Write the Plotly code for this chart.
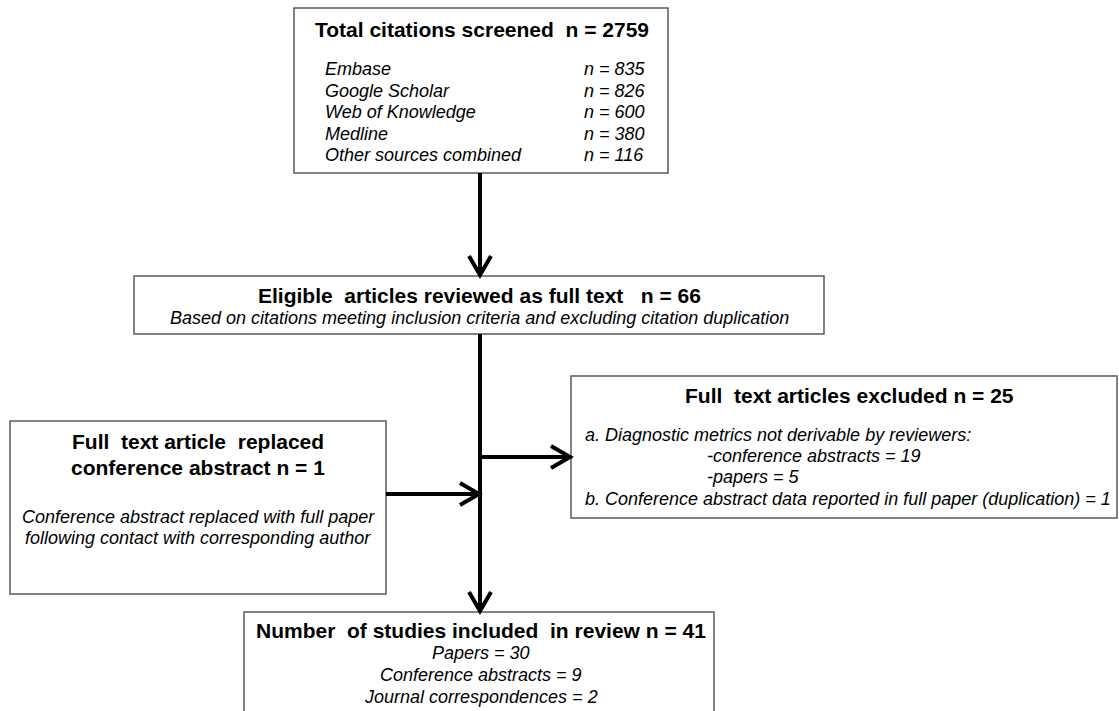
import plotly.graph_objects as go

W, H = 1119, 711

# ---- content (text) ----
screen_title = "Total citations screened&nbsp;&nbsp;n = 2759"
sources = ["Embase", "Google Scholar", "Web of Knowledge", "Medline", "Other sources combined"]
source_counts = [835, 826, 600, 380, 116]

eligible_title = "Eligible&nbsp;&nbsp;articles reviewed as full text&nbsp;&nbsp;&nbsp;n = 66"
eligible_sub = "Based on citations meeting inclusion criteria and excluding citation duplication"

excluded_title = "Full&nbsp;&nbsp;text articles excluded n = 25"
excluded_lines = ["a. Diagnostic metrics not derivable by reviewers:",
                  "-conference abstracts = 19",
                  "-papers = 5",
                  "b. Conference abstract data reported in full paper (duplication) = 1"]

replaced_title = ["Full&nbsp;&nbsp;text article&nbsp;&nbsp;replaced", "conference abstract n = 1"]
replaced_lines = ["Conference abstract replaced with full paper",
                  "following contact with corresponding author"]

included_title = "Number&nbsp;&nbsp;of studies included&nbsp;&nbsp;in review n = 41"
included_labels = ["Papers", "Conference abstracts", "Journal correspondences"]
included_counts = [30, 9, 2]

# ---- layout geometry (pixels) ----
boxes = {
    "screen":   (294, 8, 668, 173),
    "eligible": (134, 276, 824, 334),
    "excluded": (571, 376, 1117, 518),
    "replaced": (10, 421, 386, 594),
    "included": (244, 612, 714, 720),
}
FONT = "Arial, Liberation Sans, sans-serif"
BORDER = "#5a5a5a"
TITLE_SIZE = 21
BODY_SIZE = 18

fig = go.Figure()
shapes = []
for (x0, y0, x1, y1) in boxes.values():
    shapes.append(dict(type="rect", x0=x0, y0=y0, x1=x1, y1=y1,
                       line=dict(color=BORDER, width=1.5), fillcolor="white", layer="below"))

def arrow(x0, y0, x1, y1):
    shapes.append(dict(type="line", x0=x0, y0=y0, x1=x1, y1=y1, line=dict(color="black", width=4)))
    hw, hl = 11, 20
    if x0 == x1:
        d = 1 if y1 > y0 else -1
        p = f"M {x1-hw},{y1-d*hl} L {x1},{y1-1} L {x1+hw},{y1-d*hl}"
    else:
        d = 1 if x1 > x0 else -1
        p = f"M {x1-d*hl},{y1-hw} L {x1-d*1},{y1} L {x1-d*hl},{y1+hw}"
    shapes.append(dict(type="path", path=p, line=dict(color="black", width=4)))

cx = 480
arrow(cx, 173, cx, 276)
shapes.append(dict(type="line", x0=cx, y0=334, x1=cx, y1=458, line=dict(color="black", width=4)))
arrow(cx, 458, cx, 612)
arrow(cx, 457, 571, 457)
arrow(386, 494, 480, 494)

anns = []
def txt(x, y, s, size, bold=False, italic=False, anchor="center"):
    if bold:
        s = f"<b>{s}</b>"
    if italic:
        s = f"<i>{s}</i>"
    anns.append(dict(x=x, y=y, text=s, showarrow=False, xanchor=anchor, yanchor="middle",
                     font=dict(family=FONT, size=size, color="black")))

# screened box
txt(482, 29, screen_title, TITLE_SIZE, bold=True)
for i, (s, n) in enumerate(zip(sources, source_counts)):
    y = 69 + i * 21.5
    txt(323, y, s, BODY_SIZE, italic=True, anchor="left")
    txt(582, y, f"n = {n}", BODY_SIZE, italic=True, anchor="left")

# eligible
txt(479, 295, eligible_title, TITLE_SIZE, bold=True)
txt(479, 318, eligible_sub, BODY_SIZE, italic=True)

# excluded
txt(849, 395, excluded_title, TITLE_SIZE, bold=True)
ex_pos = [(583, 435), (705, 456), (705, 477), (583, 499)]
for (x, y), s in zip(ex_pos, excluded_lines):
    txt(x, y, s, BODY_SIZE, italic=True, anchor="left")

# replaced
txt(198, 441, replaced_title[0], TITLE_SIZE, bold=True)
txt(198, 467, replaced_title[1], TITLE_SIZE, bold=True)
txt(198, 517, replaced_lines[0], BODY_SIZE, italic=True)
txt(198, 538, replaced_lines[1], BODY_SIZE, italic=True)

# included
txt(481, 630, included_title, TITLE_SIZE, bold=True)
for i, (s, n) in enumerate(zip(included_labels, included_counts)):
    txt(481, 653 + i * 22, f"{s} = {n}", BODY_SIZE, italic=True)

fig.update_layout(
    width=W, height=H, margin=dict(l=0, r=0, t=0, b=0),
    paper_bgcolor="white", plot_bgcolor="white",
    xaxis=dict(range=[0, W], visible=False, fixedrange=True),
    yaxis=dict(range=[H, 0], visible=False, fixedrange=True),
    shapes=shapes, annotations=anns, showlegend=False,
)
fig.write_html("out.html", config={"displayModeBar": False},
               post_script="document.body.style.margin='0';document.body.style.overflow='hidden';")
